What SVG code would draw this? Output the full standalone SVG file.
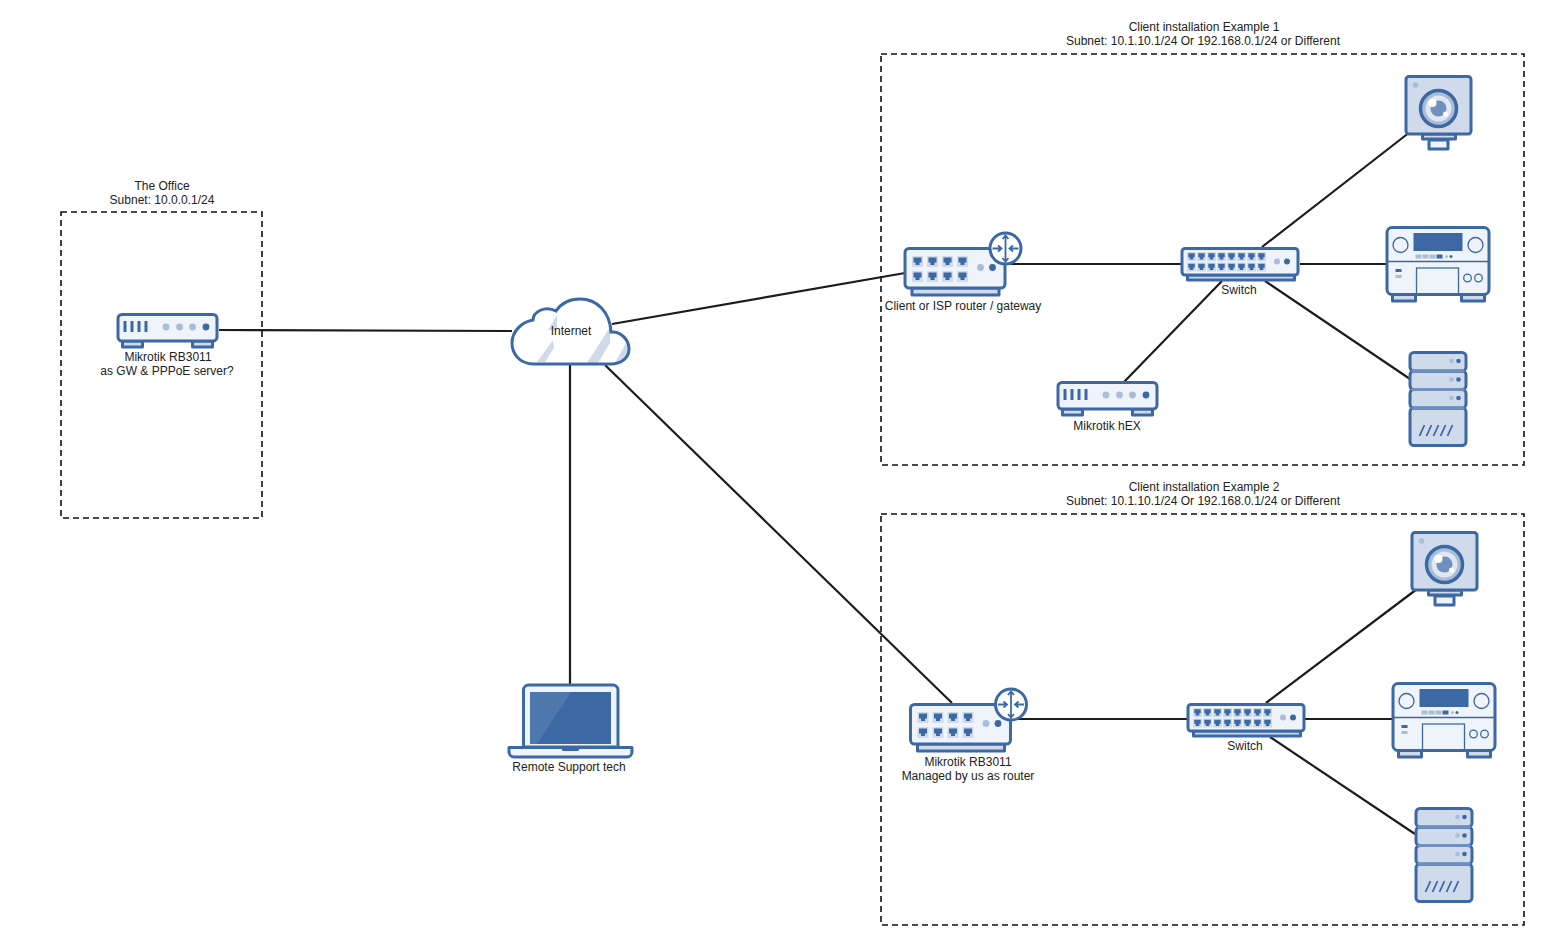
<svg xmlns="http://www.w3.org/2000/svg" width="1550" height="945" viewBox="0 0 1550 945">
<style>
text{font-family:"Liberation Sans",Arial,sans-serif;font-size:12px;fill:#222;text-anchor:middle}
.box{fill:none;stroke:#111;stroke-width:1.6;stroke-dasharray:6 4}
.ln{fill:none;stroke:#1c1c1c;stroke-width:2.2}
.o{stroke:#3c69a3;stroke-width:3;stroke-linejoin:round}
.t{fill:none;stroke:#3c69a3;stroke-width:1.3}
.l{fill:#eff3fa}.m{fill:#cfdbeb}.d{fill:#3c69a3}.g{fill:#a9bcd8}
</style>
<defs>
<g id="rb">
<rect class="o m" x="6" y="28" width="20" height="6"/><rect class="o m" x="76" y="28" width="20" height="6"/>
<rect class="o l" x="1.500" y="1.500" width="99" height="26.500" rx="4"/>
<path d="M8.500 8v11M15.500 8v11M22.500 8v11M29.500 8v11" stroke="#3c69a3" stroke-width="3" fill="none"/>
<circle class="g" cx="49.500" cy="14" r="3.400"/><circle class="g" cx="63" cy="14" r="3.400"/><circle class="g" cx="76" cy="14" r="3.400"/><circle class="d" cx="89.500" cy="14" r="3.400"/>
</g>
<g id="port"><rect class="m" x="-5.500" y="-5.500" width="11" height="11"/><path class="d" d="M-4-4h8v5h-2v2.500h-4v-2.500h-2z"/></g>
<g id="sp"><rect class="m" x="-4.500" y="-4.500" width="9" height="9"/><path class="d" d="M-3.200-3.200h6.400v4h-1.400v2.200h-3.600v-2.200h-1.400z"/></g>
<g id="rt">
<rect class="o m" x="8.500" y="41" width="87" height="7"/>
<rect class="o l" x="1.500" y="1.500" width="100" height="39.500" rx="4"/>
<use href="#port" x="14" y="14.500"/><use href="#port" x="29" y="14.500"/><use href="#port" x="44" y="14.500"/><use href="#port" x="59" y="14.500"/>
<use href="#port" x="14" y="29.500"/><use href="#port" x="29" y="29.500"/><use href="#port" x="44" y="29.500"/><use href="#port" x="59" y="29.500"/>
<circle class="g" cx="77" cy="20.500" r="3.400"/><circle class="d" cx="89" cy="20.500" r="3.400"/>
<circle cx="102" cy="1.500" r="15.500" fill="#fff" stroke="#3c69a3" stroke-width="3"/>
<path d="M102-11v25M99-8l3-3.500 3 3.500M99 11l3 3.500 3-3.500M89 1.500h9M94.500-1.500l3.500 3-3.500 3M115 1.500h-9M109.500-1.500l-3.500 3 3.500 3" fill="none" stroke="#3c69a3" stroke-width="1.800"/>
</g>
<g id="sw">
<rect class="o m" x="7" y="28" width="107" height="5"/>
<rect class="o l" x="1.500" y="1.500" width="116" height="26.500" rx="3"/>
<use href="#sp" x="11" y="9.500"/><use href="#sp" x="21" y="9.500"/><use href="#sp" x="31" y="9.500"/><use href="#sp" x="41" y="9.500"/><use href="#sp" x="51" y="9.500"/><use href="#sp" x="61" y="9.500"/><use href="#sp" x="71" y="9.500"/><use href="#sp" x="81" y="9.500"/>
<use href="#sp" x="11" y="20"/><use href="#sp" x="21" y="20"/><use href="#sp" x="31" y="20"/><use href="#sp" x="41" y="20"/><use href="#sp" x="51" y="20"/><use href="#sp" x="61" y="20"/><use href="#sp" x="71" y="20"/><use href="#sp" x="81" y="20"/>
<circle class="g" cx="96.500" cy="14.500" r="3"/><circle class="d" cx="106.500" cy="14.500" r="3"/>
</g>
<g id="cam">
<rect class="o l" x="24.500" y="65" width="19" height="9"/>
<rect class="o m" x="18" y="59" width="33" height="5"/>
<rect class="o m" x="1.500" y="1.500" width="65" height="57.500" rx="3"/>
<circle class="g" cx="11" cy="10" r="2.800"/>
<circle cx="34" cy="33.500" r="18" fill="#a9bcd8" stroke="#3c69a3" stroke-width="3.500"/>
<circle cx="34" cy="33.500" r="13" fill="#dfe7f2"/>
<circle cx="34" cy="33.500" r="8" fill="#6f90bf"/>
<circle cx="28" cy="28" r="4" fill="#fff"/><circle cx="41" cy="39" r="2.500" fill="#fff"/>
</g>
<g id="dvr">
<rect class="o m" x="7" y="68" width="23" height="7"/><rect class="o m" x="76" y="68" width="23" height="7"/>
<rect class="o l" x="1.500" y="1.500" width="102" height="67" rx="5"/>
<path d="M2 35.500h102" class="t"/>
<rect class="d" x="28" y="7" width="49" height="18"/>
<circle class="t" cx="15" cy="19" r="7.500"/><circle class="t" cx="90" cy="19" r="7.500"/>
<rect class="g" x="30" y="28.500" width="6" height="4"/><rect class="g" x="37" y="28.500" width="6" height="4"/><rect class="g" x="44" y="28.500" width="6" height="4"/><rect class="d" x="51" y="28.500" width="6" height="4"/>
<circle class="g" cx="61" cy="30.500" r="1.500"/><circle class="d" cx="65.500" cy="30.500" r="1.500"/>
<rect class="d" x="10" y="43" width="6" height="3"/><rect class="g" x="10" y="49" width="6" height="3"/>
<rect x="31" y="42" width="42" height="26" fill="#eff3fa" class="t"/>
<circle class="t" cx="82" cy="52" r="3.800"/><circle class="t" cx="93" cy="52" r="3.800"/>
</g>
<g id="srv">
<rect class="o m" x="1.500" y="57" width="56" height="37.500" rx="4"/>
<rect class="o m" x="1.500" y="38.500" width="56" height="18.500" rx="4"/>
<rect class="o m" x="1.500" y="20" width="56" height="18.500" rx="4"/>
<rect class="o m" x="1.500" y="1.500" width="56" height="18.500" rx="4"/>
<path d="M3 20h53M3 38.500h53M3 57h53" stroke="#6f90bf" stroke-width="3" fill="none"/>
<circle class="g" cx="43" cy="10" r="2.300"/><circle class="d" cx="50" cy="10" r="2.300"/>
<circle class="g" cx="43" cy="28.500" r="2.300"/><circle class="d" cx="50" cy="28.500" r="2.300"/>
<circle class="g" cx="43" cy="47" r="2.300"/><circle class="d" cx="50" cy="47" r="2.300"/>
<path d="M11 85l5-11M18 85l5-11M25 85l5-11M32 85l5-11M39 85l5-11" stroke="#3c69a3" stroke-width="1.800" fill="none"/>
</g>
</defs>

<rect width="1550" height="945" fill="#fff"/>

<g id="boxes">
<rect class="box" x="61" y="212" width="201" height="306"/>
<rect class="box" x="881" y="54" width="643" height="411"/>
<rect class="box" x="881" y="514" width="643" height="411"/>
</g>
<text x="162" y="190">The Office</text>
<text x="162" y="204">Subnet: 10.0.0.1/24</text>
<text x="1204" y="31">Client installation Example 1</text>
<text x="1203" y="45">Subnet: 10.1.10.1/24 Or 192.168.0.1/24 or Different</text>
<text x="1204" y="491">Client installation Example 2</text>
<text x="1203" y="505">Subnet: 10.1.10.1/24 Or 192.168.0.1/24 or Different</text>

<g id="connectors">
<path class="ln" d="M219 330L512 331"/>
<path class="ln" d="M612 324L905 273"/>
<path class="ln" d="M570 365V685"/>
<path class="ln" d="M605 365L952 703"/>
<path class="ln" d="M1007 264H1181"/>
<path class="ln" d="M1262 247L1410 132"/>
<path class="ln" d="M1300 264H1386"/>
<path class="ln" d="M1265 281L1410 379"/>
<path class="ln" d="M1222 281L1124 382"/>
<path class="ln" d="M1012 719H1187"/>
<path class="ln" d="M1266 703L1417 589"/>
<path class="ln" d="M1305 719H1392"/>
<path class="ln" d="M1270 737L1415 834"/>
</g>

<g id="office-router"><use href="#rb" x="116.500" y="313"/><text x="168" y="361">Mikrotik RB3011</text><text x="167" y="375">as GW &amp; PPPoE server?</text></g>

<g id="internet">
<path d="M534 364C518 364 512 352 512 343C512 332 521 322 533 320C533 312 545 305 556 311C562 302 572 299 580 299C597 299 610 312 611 332C622 331 629 341 629 349C629 358 621 364 611 364Z" fill="#fff"/>
<path d="M537 362L553 340 554 348 545 362ZM548 330L557 315 557 330ZM587 363L610 327 610 343 598 363ZM615 363L626 343 629 353 620 363Z" fill="#cfdbeb"/>
<path d="M534 364C518 364 512 352 512 343C512 332 521 322 533 320C533 312 545 305 556 311C562 302 572 299 580 299C597 299 610 312 611 332C622 331 629 341 629 349C629 358 621 364 611 364Z" fill="none" stroke="#3c69a3" stroke-width="3"/>
<text x="571" y="335">Internet</text>
</g>

<g id="laptop">
<path class="o l" d="M523.500 747V690a5 5 0 0 1 5-5H613a5 5 0 0 1 5 5V747Z"/>
<rect class="d" x="530" y="692" width="81" height="52"/>
<path d="M530 692H571L537 744H530Z" fill="#4f78ae"/>
<path class="o l" d="M509 747.500H632V752a5 5 0 0 1-5 5H514a5 5 0 0 1-5-5Z"/>
<path class="d" d="M562 747h17v2.500a1.500 1.500 0 0 1-1.500 1.500h-14a1.500 1.500 0 0 1-1.500-1.500Z"/>
<text x="569" y="771">Remote Support tech</text>
</g>

<g id="client1-router"><use href="#rt" x="903.500" y="247"/><text x="963" y="310">Client or ISP router / gateway</text></g>
<g id="client1-switch"><use href="#sw" x="1180.500" y="247"/><text x="1239" y="294">Switch</text></g>
<g id="client1-camera"><use href="#cam" x="1404.500" y="75"/></g>
<g id="client1-dvr"><use href="#dvr" x="1385.500" y="226"/></g>
<g id="client1-server"><use href="#srv" x="1408.500" y="351"/></g>
<g id="client1-hex"><use href="#rb" x="1056.500" y="381"/><text x="1107" y="430">Mikrotik hEX</text></g>

<g id="client2-router"><use href="#rt" x="909" y="703"/><text x="968" y="766">Mikrotik RB3011</text><text x="968" y="780">Managed by us as router</text></g>
<g id="client2-switch"><use href="#sw" x="1186.500" y="703"/><text x="1245" y="750">Switch</text></g>
<g id="client2-camera"><use href="#cam" x="1410.500" y="531"/></g>
<g id="client2-dvr"><use href="#dvr" x="1391.500" y="682"/></g>
<g id="client2-server"><use href="#srv" x="1414.500" y="807"/></g>
</svg>
